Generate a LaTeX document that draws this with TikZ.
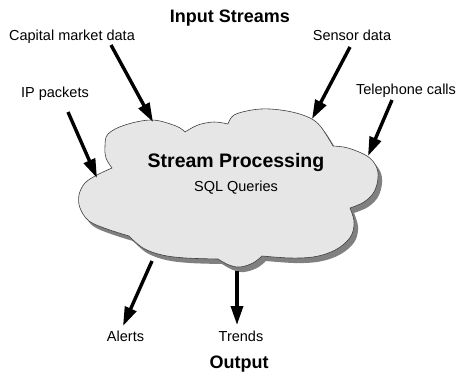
\documentclass[tikz,border=0pt]{standalone}
\usepackage{fontspec}
\setmainfont{Liberation Sans}
\usetikzlibrary{arrows.meta}
\definecolor{cloudfill}{HTML}{E6E6E6}
\definecolor{cloudshadow}{HTML}{808080}
\definecolor{cloudline}{HTML}{404040}
\tikzset{
  lbl/.style={font=\fontsize{14.5}{16}\selectfont, anchor=base, inner sep=0pt},
  ttl/.style={font=\bfseries\fontsize{18}{20}\selectfont, anchor=base, inner sep=0pt},
  big/.style={font=\bfseries\fontsize{19.5}{22}\selectfont, anchor=base, inner sep=0pt},
  flow/.style={line width=3.4pt, -{Triangle[length=19pt,width=12pt]}},
}
\newcommand{\cloudpath}{%
  (112,168) -- plot[smooth, tension=0.6] coordinates {(112,168) (106,158) (105,146) (108,134) (125,125) (152,120) (176,126) (185,132)}
  -- plot[smooth, tension=0.6] coordinates {(185,132) (198,125) (214,122) (228,124)}
  -- plot[smooth, tension=0.6] coordinates {(228,124) (234,115) (252,110) (270,109) (292,112) (310,118) (321,127) (333,146)}
  -- plot[smooth, tension=0.6] coordinates {(333,146) (348,148) (367,156) (376,166) (378,178) (374,192) (364,202) (350,208)}
  -- plot[smooth, tension=0.6] coordinates {(350,208) (354,221) (352,234) (344,244) (331,252) (313,257) (290,258) (262,256)}
  -- plot[smooth, tension=0.6] coordinates {(262,256) (253,263) (240,267) (229,265) (218,259)}
  -- plot[smooth, tension=0.6] coordinates {(218,259) (186,258) (162,255) (143,248) (129,236)}
  -- plot[smooth, tension=0.6] coordinates {(129,236) (107,229) (89,221) (80,208) (79,195) (85,183) (97,175) (112,168)}
  -- cycle}
\begin{document}
\begin{tikzpicture}[x=1pt,y=-1pt]
\useasboundingbox (0,0) rectangle (457,372);
% cloud shadow and body
\fill[cloudshadow, shift={(4,5)}] \cloudpath;
\filldraw[fill=cloudfill, draw=cloudline, line width=0.6pt] \cloudpath;
% labels
\node[ttl] (title) at (230,22) {Input Streams};
\node[lbl] (cap) at (72,40) {Capital market data};
\node[lbl] (sens) at (352,40) {Sensor data};
\node[lbl] (ip) at (55,97) {IP packets};
\node[lbl] (tel) at (406,94) {Telephone calls};
\node[big] (sp) at (236,167) {Stream Processing};
\node[lbl] (sql) at (236,191) {SQL Queries};
\node[lbl] (alerts) at (125.5,341) {Alerts};
\node[lbl] (trends) at (241,341) {Trends};
\node[ttl] (out) at (239,368) {Output};
% arrow end points
\coordinate (capS) at (111,45);
\coordinate (capE) at (153,122);
\coordinate (sensS) at (350,47);
\coordinate (sensE) at (312,119);
\coordinate (ipS) at (68,112);
\coordinate (ipE) at (97,178);
\coordinate (telS) at (392,100);
\coordinate (telE) at (368,156);
\coordinate (alS) at (152,261);
\coordinate (alE) at (123,326);
\coordinate (trS) at (237,271);
\coordinate (trE) at (237,325);
\draw[flow] (capS) -- (capE);
\draw[flow] (sensS) -- (sensE);
\draw[flow] (ipS) -- (ipE);
\draw[flow] (telS) -- (telE);
\draw[flow] (alS) -- (alE);
\draw[flow] (trS) -- (trE);
\end{tikzpicture}
\end{document}
